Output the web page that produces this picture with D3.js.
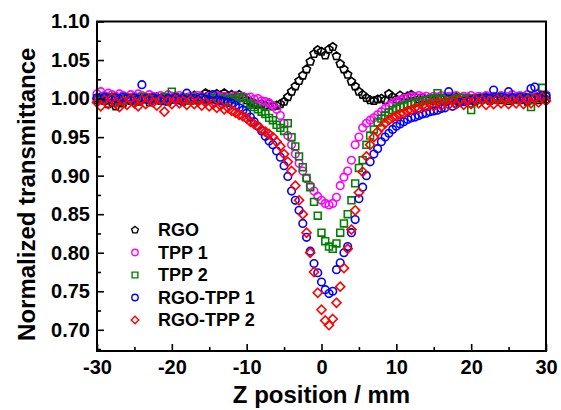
<!DOCTYPE html>
<html>
<head>
<meta charset="utf-8">
<script src="https://cdn.jsdelivr.net/npm/d3@7"></script>
<style>
  html, body { margin: 0; padding: 0; background: #fff; }
  svg { display: block; }
  text { font-family: "Liberation Sans", Arial, sans-serif; font-weight: bold; fill: #000; }
</style>
</head>
<body>
<svg id="chart" width="561" height="410"></svg>
<script>
// ---------- data ----------
const zPositions = [
  -30,-29.5,-29,-28.5,-28,-27.5,-27,-26.5,-26,-25.5,
  -25,-24.5,-24,-23.5,-23,-22.5,-22,-21.5,-21,-20.5,
  -20,-19.5,-19,-18.5,-18,-17.5,-17,-16.5,-16,-15.5,
  -15,-14.5,-14,-13.5,-13,-12.5,-12,-11.5,-11,-10.5,
  -10,-9.5,-9,-8.5,-8,-7.5,-7,-6.5,-6,-5.5,
  -5,-4.5,-4,-3.5,-3,-2.5,-2,-1.5,-1,-0.5,
  0,0.5,1,1.5,2,2.5,3,3.5,4,4.5,
  5,5.5,6,6.5,7,7.5,8,8.5,9,9.5,
  10,10.5,11,11.5,12,12.5,13,13.5,14,14.5,
  15,15.5,16,16.5,17,17.5,18,18.5,19,19.5,
  20,20.5,21,21.5,22,22.5,23,23.5,24,24.5,
  25,25.5,26,26.5,27,27.5,28,28.5,29,29.5,
  30
];

const rgo = [
  0.998,1.002,0.997,0.993,0.995,0.990,0.996,0.994,1.000,0.997,
  0.998,0.996,1.001,0.999,0.995,0.998,1.002,0.997,1.000,0.996,
  0.999,1.003,0.998,0.996,1.001,0.999,1.004,0.998,1.003,1.007,
  1.005,1.002,1.006,1.004,1.007,1.003,1.005,1.002,1.005,1.001,
  0.998,0.996,0.994,0.992,0.993,0.991,0.994,0.990,0.991,0.993,
  0.996,1.002,1.009,1.016,1.023,1.030,1.038,1.048,1.058,1.063,
  1.061,1.056,1.064,1.067,1.055,1.045,1.038,1.031,1.022,1.016,
  1.009,1.005,1.001,0.998,0.997,0.999,1.000,0.998,1.006,1.002,
  0.999,1.004,1.001,1.003,1.005,1.002,0.999,1.001,0.998,1.000,
  0.997,1.001,0.999,0.996,1.000,0.998,1.002,0.997,0.999,1.001,
  0.998,0.996,1.000,0.999,1.002,0.997,0.999,1.001,0.998,1.000,
  0.997,0.999,1.002,0.998,1.000,0.996,0.999,1.001,0.998,1.000,
  0.999
];

const tpp1 = [
  1.006,1.009,1.004,1.007,1.005,1.003,1.006,1.004,1.002,1.005,
  1.003,1.006,1.004,1.002,1.005,1.003,1.001,1.004,1.002,1.005,
  1.003,1.001,1.004,1.002,1.000,1.003,1.001,1.004,1.002,1.000,
  1.003,1.001,1.004,1.002,1.003,1.001,1.002,1.004,1.000,1.003,
  1.001,1.002,0.999,1.000,0.997,0.996,0.994,0.991,0.986,0.978,
  0.968,0.952,0.940,0.928,0.916,0.906,0.896,0.887,0.880,0.873,
  0.868,0.864,0.862,0.864,0.872,0.887,0.898,0.906,0.920,0.940,
  0.950,0.962,0.968,0.972,0.975,0.979,0.983,0.987,0.991,0.994,
  0.996,0.998,1.000,1.001,1.003,1.002,1.004,1.002,1.003,1.001,
  1.003,1.002,1.004,1.001,1.003,1.002,1.004,1.001,1.003,1.002,
  1.004,1.001,1.003,1.002,1.004,1.002,1.003,1.001,1.004,1.002,
  1.003,1.005,1.002,1.004,1.003,1.005,1.002,1.004,1.006,1.003,
  1.005
];

const tpp2 = [
  1.000,0.998,1.001,0.999,1.002,0.998,1.000,0.997,1.001,0.999,
  1.000,0.998,1.002,0.999,1.001,0.998,1.000,0.999,1.002,0.999,
  1.009,0.999,1.001,0.998,1.000,0.997,1.001,0.999,0.998,1.000,
  0.999,1.001,0.998,1.000,0.997,0.999,1.000,0.998,1.002,1.001,
  0.994,0.992,0.989,0.986,0.983,0.980,0.975,0.972,0.966,0.962,
  0.958,0.968,0.950,0.938,0.925,0.911,0.897,0.885,0.866,0.848,
  0.826,0.815,0.808,0.805,0.812,0.826,0.838,0.850,0.868,0.890,
  0.910,0.920,0.940,0.952,0.960,0.969,0.974,0.978,0.982,0.985,
  0.987,0.989,0.990,0.992,0.994,0.995,0.996,0.997,0.998,0.999,
  1.000,1.007,0.999,1.001,0.998,1.000,0.999,1.001,0.998,1.000,
  0.985,1.000,0.998,1.001,0.999,1.000,0.998,1.002,0.999,1.000,
  0.999,1.001,0.998,1.000,1.002,0.999,0.989,1.001,1.000,1.014,
  1.003
];

const rgoTpp1 = [
  1.001,0.999,1.002,1.000,0.998,1.001,0.999,1.002,1.000,0.998,
  1.001,0.999,1.018,1.000,0.998,1.001,0.999,1.000,0.997,1.000,
  0.999,1.001,0.998,1.000,1.007,0.999,1.000,0.998,1.001,0.999,
  0.998,1.005,0.998,0.997,0.996,0.995,0.994,0.991,0.988,0.985,
  0.981,0.976,0.970,0.964,0.958,0.951,0.945,0.940,0.932,0.924,
  0.913,0.899,0.880,0.868,0.855,0.838,0.820,0.802,0.786,0.774,
  0.762,0.752,0.747,0.750,0.778,0.787,0.800,0.808,0.826,0.843,
  0.870,0.885,0.900,0.918,0.928,0.935,0.944,0.950,0.955,0.960,
  0.964,0.967,0.970,0.973,0.975,0.976,0.978,0.980,0.981,0.983,
  0.984,0.985,0.987,0.988,1.009,0.990,0.993,0.995,0.996,0.997,
  0.998,0.999,1.000,0.999,1.001,1.000,1.011,1.000,1.002,0.999,
  1.009,1.001,1.000,1.002,0.999,1.001,1.013,1.015,1.002,1.004,
  1.003
];

const rgoTpp2 = [
  0.995,0.990,0.998,0.993,1.001,0.994,0.989,0.997,0.992,1.000,
  0.994,0.990,0.998,0.993,1.000,0.995,0.991,0.999,0.983,0.997,
  0.993,0.999,0.994,0.997,0.992,0.998,0.993,0.996,0.991,0.995,
  0.990,0.993,0.988,0.991,0.986,0.988,0.984,0.982,0.979,0.977,
  0.974,0.970,0.967,0.964,0.960,0.957,0.954,0.950,0.944,0.938,
  0.928,0.918,0.906,0.887,0.868,0.850,0.826,0.800,0.775,0.748,
  0.726,0.712,0.706,0.714,0.735,0.756,0.780,0.805,0.830,0.855,
  0.878,0.905,0.925,0.940,0.950,0.957,0.963,0.968,0.972,0.975,
  0.977,0.980,0.981,0.984,0.985,0.988,0.987,0.991,0.989,0.993,
  0.990,0.995,0.991,0.996,0.992,0.997,0.993,0.998,0.992,0.997,
  0.993,0.999,0.994,0.998,0.992,0.997,0.993,0.999,0.994,0.998,
  0.993,0.998,0.994,0.999,0.993,0.998,0.994,1.000,0.995,1.002,
  0.997
];

const seriesNames = ["RGO", "TPP 1", "TPP 2", "RGO-TPP 1", "RGO-TPP 2"];
const seriesValues = [rgo, tpp1, tpp2, rgoTpp1, rgoTpp2];
const seriesColors = ["#000000", "#ff00ff", "#008000", "#0000ff", "#ff0000"];
const seriesShapes = ["pentagon", "circle", "square", "circle", "diamond"];

const xTicks = [-30, -20, -10, 0, 10, 20, 30];
const xTickLabels = ["-30", "-20", "-10", "0", "10", "20", "30"];
const xMinorTicks = [-25, -15, -5, 5, 15, 25];
const yTicks = [0.70, 0.75, 0.80, 0.85, 0.90, 0.95, 1.00, 1.05, 1.10];
const yMinorTicks = [0.675, 0.725, 0.775, 0.825, 0.875, 0.925, 0.975, 1.025, 1.075];

const xTitle = "Z position / mm";
const yTitle = "Normalized transmittance";

// ---------- layout ----------
const plotLeft = 97, plotRight = 546, plotTop = 21.5, plotBottom = 351;
const svg = d3.select("#chart");

const x = d3.scaleLinear().domain([-30, 30]).range([plotLeft, plotRight]);
const y = d3.scaleLinear().domain([0.6725, 1.10]).range([plotBottom, plotTop]);

function shapePath(shape, s) {
  if (shape === "circle") {
    return d3.symbol().type(d3.symbolCircle).size(Math.PI * s * s)();
  }
  if (shape === "square") {
    const h = s * 0.9;
    return `M${-h},${-h}H${h}V${h}H${-h}Z`;
  }
  if (shape === "diamond") {
    const h = s * 1.2;
    return `M0,${-h}L${h},0L0,${h}L${-h},0Z`;
  }
  if (shape === "pentagon") {
    const r = s * 1.1;
    const pts = d3.range(5).map(k => {
      const a = -Math.PI / 2 + k * 2 * Math.PI / 5;
      return [r * Math.cos(a), r * Math.sin(a)];
    });
    return "M" + pts.map(p => p[0].toFixed(2) + "," + p[1].toFixed(2)).join("L") + "Z";
  }
}

// ---------- data marks ----------
const plot = svg.append("g");
seriesValues.forEach((vals, si) => {
  const data = zPositions.map((z, i) => ({ z, v: vals[i] }));
  plot.append("g")
    .selectAll("path")
    .data(data)
    .join("path")
    .attr("transform", d => `translate(${x(d.z)},${y(d.v)})`)
    .attr("d", shapePath(seriesShapes[si], 3.8))
    .attr("fill", "none")
    .attr("stroke", seriesColors[si])
    .attr("stroke-width", 1.6);
});

// ---------- axes ----------
svg.append("g").attr("transform", `translate(0,${plotBottom})`)
  .call(d3.axisBottom(x).tickValues(xTicks).tickSize(-7).tickPadding(9)
    .tickFormat((d, i) => xTickLabels[i]));
svg.append("g").attr("transform", `translate(0,${plotBottom})`)
  .call(d3.axisBottom(x).tickValues(xMinorTicks).tickSize(-4).tickFormat(""));
svg.append("g").attr("transform", `translate(${plotLeft},0)`)
  .call(d3.axisLeft(y).tickValues(yTicks).tickSize(-7).tickPadding(7).tickFormat(d3.format(".2f")));
svg.append("g").attr("transform", `translate(${plotLeft},0)`)
  .call(d3.axisLeft(y).tickValues(yMinorTicks).tickSize(-4).tickFormat(""));

svg.selectAll(".domain").remove();
svg.selectAll(".tick line").attr("stroke", "#000").attr("stroke-width", 1.6);
svg.selectAll(".tick text").style("font-size", "20px").style("font-family", "'Liberation Sans', Arial, sans-serif").style("font-weight", "bold");

svg.append("rect")
  .attr("x", plotLeft).attr("y", plotTop)
  .attr("width", plotRight - plotLeft).attr("height", plotBottom - plotTop)
  .attr("fill", "none").attr("stroke", "#000").attr("stroke-width", 2);

// ---------- titles ----------
svg.append("text")
  .attr("x", (plotLeft + plotRight) / 2).attr("y", 403)
  .attr("text-anchor", "middle")
  .style("font-size", "24px")
  .text(xTitle);

svg.append("text")
  .attr("transform", `translate(35,${(plotTop + plotBottom) / 2 + 8}) rotate(-90)`)
  .attr("text-anchor", "middle")
  .style("font-size", "24px")
  .text(yTitle);

// ---------- legend ----------
const legend = svg.append("g");
seriesNames.forEach((name, i) => {
  const cy = 230 + i * 22.5;
  legend.append("path")
    .attr("transform", `translate(135,${cy})`)
    .attr("d", shapePath(seriesShapes[i], 3.2))
    .attr("fill", "none")
    .attr("stroke", seriesColors[i])
    .attr("stroke-width", 1.4);
  legend.append("text")
    .attr("x", 158).attr("y", cy)
    .attr("dy", "0.36em")
    .style("font-size", "18px")
    .text(name);
});
</script>
</body>
</html>
